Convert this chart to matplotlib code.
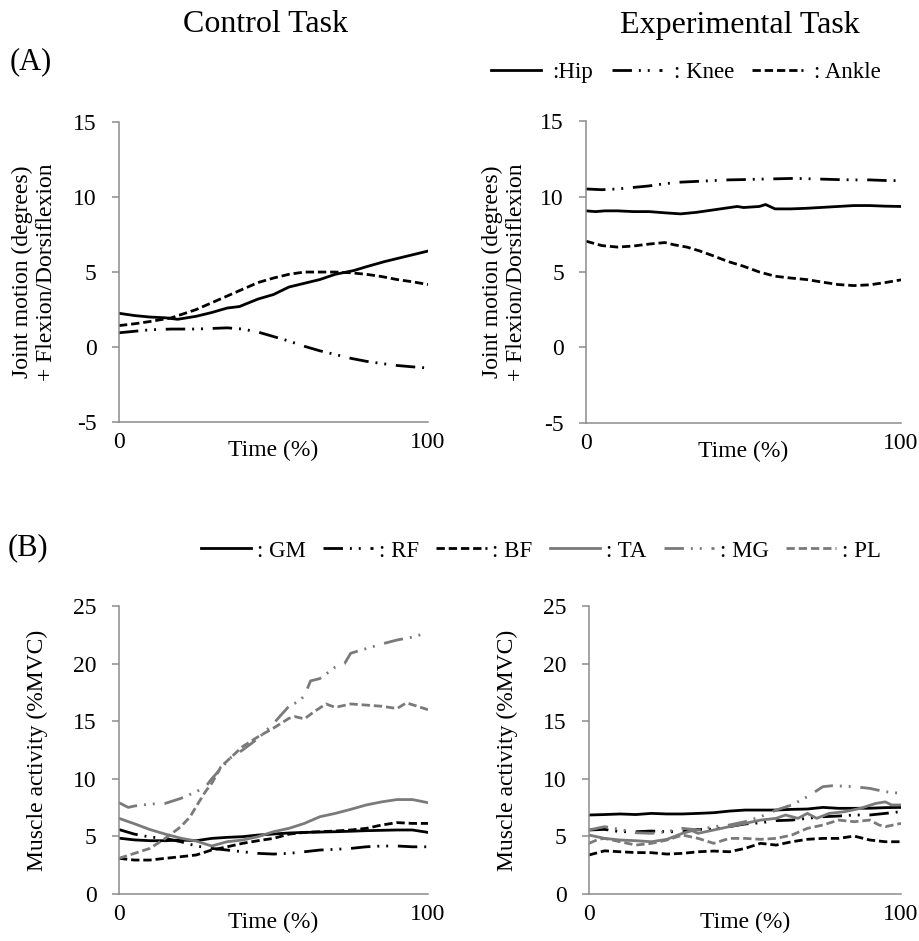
import matplotlib
matplotlib.use("Agg")
import matplotlib.pyplot as plt
from matplotlib.lines import Line2D

plt.rcParams['font.family'] = ['Liberation Serif', 'DejaVu Serif']
plt.rcParams['axes.unicode_minus'] = False

# ---- joint motion (degrees), control task ----
ctl_hip_t = [0, 5, 10, 15, 19, 25, 30, 35, 39, 45, 50, 55, 60, 65, 70, 76, 80, 86, 90, 95, 100]
ctl_hip = [2.25, 2.1, 2.0, 1.95, 1.85, 2.05, 2.3, 2.6, 2.7, 3.2, 3.5, 4.0, 4.25, 4.5, 4.85, 5.1, 5.35, 5.7, 5.9, 6.15, 6.4]
ctl_knee_t = [0, 5, 10, 17, 25, 35, 40, 45, 50, 55, 60, 65, 70, 75, 80, 85, 90, 95, 100]
ctl_knee = [0.95, 1.05, 1.15, 1.2, 1.2, 1.28, 1.2, 1.0, 0.7, 0.4, 0.05, -0.25, -0.5, -0.75, -0.95, -1.1, -1.23, -1.32, -1.4]
ctl_ankle_t = [0, 5, 10, 17, 25, 30, 35, 40, 45, 50, 55, 60, 65, 70, 75, 80, 85, 90, 95, 100]
ctl_ankle = [1.43, 1.55, 1.7, 1.95, 2.5, 2.95, 3.4, 3.85, 4.3, 4.6, 4.85, 5.0, 5.0, 5.0, 4.95, 4.85, 4.7, 4.5, 4.35, 4.17]

# ---- joint motion (degrees), experimental task ----
exp_hip_t = [0, 3, 6, 10, 15, 20, 25, 30, 35, 40, 45, 48, 50, 55, 57, 60, 65, 70, 75, 80, 85, 90, 95, 100]
exp_hip = [9.05, 9.0, 9.05, 9.05, 9.0, 9.0, 8.92, 8.85, 8.95, 9.1, 9.25, 9.34, 9.27, 9.34, 9.47, 9.18, 9.18, 9.22, 9.28, 9.34, 9.4, 9.4, 9.36, 9.34]
exp_knee_t = [0, 5, 10, 15, 20, 25, 30, 35, 40, 45, 50, 55, 60, 66, 70, 75, 80, 85, 90, 95, 100]
exp_knee = [10.5, 10.45, 10.5, 10.6, 10.7, 10.85, 10.95, 11.0, 11.05, 11.1, 11.12, 11.15, 11.17, 11.2, 11.18, 11.15, 11.12, 11.1, 11.1, 11.06, 11.05]
exp_ankle_t = [0, 5, 10, 15, 20, 25, 28, 32, 36, 40, 45, 50, 55, 60, 65, 70, 75, 80, 85, 90, 95, 100]
exp_ankle = [7.04, 6.75, 6.65, 6.72, 6.85, 6.95, 6.8, 6.65, 6.4, 6.1, 5.7, 5.38, 5.0, 4.72, 4.6, 4.5, 4.33, 4.17, 4.1, 4.15, 4.3, 4.48]

# ---- muscle activity (%MVC), control task ----
ctl_emg_t = [0, 5, 10, 15, 20, 25, 30, 35, 40, 45, 50, 55, 60, 65, 70, 75, 80, 85, 90, 95, 100]
ctl_gm = [4.85, 4.7, 4.63, 4.63, 4.69, 4.63, 4.83, 4.92, 4.98, 5.12, 5.21, 5.3, 5.35, 5.38, 5.41, 5.45, 5.5, 5.53, 5.56, 5.56, 5.35]
ctl_rf = [5.6, 5.2, 4.95, 4.83, 4.54, 4.17, 3.96, 3.82, 3.67, 3.53, 3.47, 3.53, 3.67, 3.82, 3.88, 3.96, 4.1, 4.17, 4.17, 4.1, 4.1]
ctl_bf = [3.1, 2.95, 2.95, 3.1, 3.24, 3.39, 3.82, 4.1, 4.4, 4.63, 4.83, 5.2, 5.35, 5.41, 5.47, 5.56, 5.7, 5.99, 6.2, 6.13, 6.13]
ctl_ta = [6.57, 6.1, 5.6, 5.2, 4.85, 4.6, 4.17, 4.54, 4.69, 4.98, 5.41, 5.7, 6.13, 6.71, 7.0, 7.35, 7.73, 8.0, 8.2, 8.2, 7.93]
ctl_mg_t = [0, 3, 5, 10, 15, 20, 25, 28, 30, 33, 36, 40, 45, 50, 53, 55, 58, 60, 62, 65, 68, 70, 73, 75, 80, 85, 90, 95, 100]
ctl_mg = [7.93, 7.52, 7.64, 7.81, 7.87, 8.3, 8.88, 9.3, 10.0, 10.9, 11.8, 12.5, 13.5, 14.8, 15.7, 16.3, 16.7, 17.2, 18.5, 18.7, 19.3, 19.7, 20.0, 20.9, 21.3, 21.7, 22.05, 22.3, 22.7]
ctl_pl_t = [0, 5, 10, 15, 20, 23, 25, 28, 30, 33, 36, 40, 45, 50, 55, 57, 60, 63, 67, 70, 75, 80, 85, 90, 93, 100]
ctl_pl = [3.1, 3.53, 3.96, 4.83, 5.84, 6.7, 7.6, 8.9, 9.6, 11.05, 11.8, 12.8, 13.65, 14.4, 15.25, 15.4, 15.2, 15.8, 16.5, 16.2, 16.5, 16.4, 16.3, 16.1, 16.6, 16.0]

# ---- muscle activity (%MVC), experimental task ----
exp_emg_t = [0, 5, 10, 15, 20, 25, 30, 35, 40, 45, 50, 55, 60, 65, 70, 75, 80, 85, 90, 95, 100]
exp_gm = [6.86, 6.9, 6.95, 6.9, 7.0, 6.95, 6.95, 7.0, 7.06, 7.2, 7.29, 7.29, 7.29, 7.35, 7.38, 7.52, 7.44, 7.44, 7.45, 7.5, 7.52]
exp_rf = [5.56, 5.61, 5.41, 5.41, 5.47, 5.41, 5.41, 5.61, 5.64, 5.85, 6.08, 6.19, 6.37, 6.42, 6.57, 6.71, 6.77, 6.86, 6.86, 7.0, 7.15]
exp_bf = [3.39, 3.75, 3.67, 3.6, 3.59, 3.47, 3.53, 3.67, 3.73, 3.67, 3.96, 4.4, 4.25, 4.54, 4.75, 4.83, 4.83, 5.03, 4.69, 4.54, 4.54]
exp_mg_t = [0, 5, 10, 15, 20, 25, 30, 35, 40, 45, 50, 55, 60, 65, 70, 75, 78, 85, 90, 95, 100]
exp_mg = [5.56, 5.85, 5.61, 5.32, 5.27, 5.41, 5.7, 5.56, 5.85, 5.99, 6.28, 6.71, 7.29, 7.73, 8.45, 9.32, 9.4, 9.32, 9.17, 8.88, 8.74]
exp_ta_t = [0, 5, 10, 15, 20, 25, 30, 33, 35, 40, 45, 50, 55, 60, 63, 67, 70, 73, 77, 82, 87, 92, 95, 97, 100]
exp_ta = [5.12, 4.83, 4.69, 4.63, 4.54, 4.75, 5.27, 5.5, 5.27, 5.56, 5.85, 6.13, 6.42, 6.57, 6.86, 6.57, 7.0, 6.57, 7.0, 7.15, 7.44, 7.87, 8.0, 7.73, 7.73]
exp_pl_t = [0, 3, 5, 10, 15, 20, 25, 30, 35, 40, 45, 50, 55, 60, 65, 70, 75, 80, 85, 90, 93, 95, 100]
exp_pl = [4.4, 4.75, 4.83, 4.54, 4.25, 4.4, 4.69, 5.12, 4.83, 4.4, 4.83, 4.83, 4.75, 4.83, 5.12, 5.7, 5.99, 6.42, 6.28, 6.42, 5.99, 5.85, 6.13]

GRAY = '#7a7a7a'
SPINE = '#8c8c8c'
LW = 2.0
FS = 17
solid = '-'
dashed = (0, (3.0, 1.4))
dadodo = (0, (7, 2.5, 0.7, 2.5, 0.7, 3.5))

fig = plt.figure(figsize=(9.2, 9.41), dpi=100)

ax_tl = fig.add_axes([0.1293, 0.5515, 0.3359, 0.3188])
ax_tr = fig.add_axes([0.6370, 0.5505, 0.3424, 0.3209])
ax_bl = fig.add_axes([0.1293, 0.0499, 0.3359, 0.3061])
ax_br = fig.add_axes([0.6402, 0.0499, 0.3391, 0.3061])


def style(ax, ylim, yticks, ylabel, xlab_y, ylab_x):
    ax.set_xlim(0, 100)
    ax.set_ylim(*ylim)
    ax.set_yticks(yticks)
    ax.set_xticks([0, 100])
    ax.set_xticklabels(['0', '100'])
    for s in ['top', 'right']:
        ax.spines[s].set_visible(False)
    for s in ['left', 'bottom']:
        ax.spines[s].set_color(SPINE)
        ax.spines[s].set_linewidth(1.1)
    ax.tick_params(axis='y', length=5, width=1.1, color=SPINE, labelsize=FS, pad=11)
    ax.tick_params(axis='x', length=0, labelsize=FS, pad=7)
    ax.set_ylabel(ylabel, fontsize=FS, linespacing=1.2)
    ax.yaxis.set_label_coords(ylab_x, 0.5)
    ax.set_xlabel('Time (%)', fontsize=FS)
    ax.xaxis.set_label_coords(0.5, xlab_y)


# top row: joint motion
ylab_a = 'Joint motion (degrees)\n+ Flexion/Dorsiflexion'
for ax, hip_t, hip, knee_t, knee, ank_t, ank, lx in [
        (ax_tl, ctl_hip_t, ctl_hip, ctl_knee_t, ctl_knee, ctl_ankle_t, ctl_ankle, -0.20),
        (ax_tr, exp_hip_t, exp_hip, exp_knee_t, exp_knee, exp_ankle_t, exp_ankle, -0.187)]:
    ax.plot(hip_t, hip, color='black', lw=LW, ls=solid)
    ax.plot(knee_t, knee, color='black', lw=LW, ls=dadodo)
    ax.plot(ank_t, ank, color='black', lw=LW, ls=dashed)
    style(ax, (-5, 15), [-5, 0, 5, 10, 15], ylab_a, -0.06, lx)

# bottom row: muscle activity
ax_bl.plot(ctl_emg_t, ctl_gm, color='black', lw=LW, ls=solid)
ax_bl.plot(ctl_emg_t, ctl_rf, color='black', lw=LW, ls=dadodo)
ax_bl.plot(ctl_emg_t, ctl_bf, color='black', lw=LW, ls=dashed)
ax_bl.plot(ctl_emg_t, ctl_ta, color=GRAY, lw=LW, ls=solid)
ax_bl.plot(ctl_mg_t, ctl_mg, color=GRAY, lw=LW, ls=dadodo)
ax_bl.plot(ctl_pl_t, ctl_pl, color=GRAY, lw=LW, ls=dashed)

ax_br.plot(exp_emg_t, exp_gm, color='black', lw=LW, ls=solid)
ax_br.plot(exp_emg_t, exp_rf, color='black', lw=LW, ls=dadodo)
ax_br.plot(exp_emg_t, exp_bf, color='black', lw=LW, ls=dashed)
ax_br.plot(exp_ta_t, exp_ta, color=GRAY, lw=LW, ls=solid)
ax_br.plot(exp_mg_t, exp_mg, color=GRAY, lw=LW, ls=dadodo)
ax_br.plot(exp_pl_t, exp_pl, color=GRAY, lw=LW, ls=dashed)

style(ax_bl, (0, 25), [0, 5, 10, 15, 20, 25], 'Muscle activity (%MVC)', -0.062, -0.23)
style(ax_br, (0, 25), [0, 5, 10, 15, 20, 25], 'Muscle activity (%MVC)', -0.062, -0.227)

# titles and panel letters
fig.text(266 / 920, 1 - 25 / 941, 'Control Task', fontsize=23, ha='center', va='center')
fig.text(740 / 920, 1 - 25 / 941, 'Experimental Task', fontsize=23, ha='center', va='center')
fig.text(10 / 920, 1 - 62 / 941, '(A)', fontsize=22, ha='left', va='center')
fig.text(8 / 920, 1 - 548 / 941, '(B)', fontsize=22, ha='left', va='center')

# legends
leg_a = [Line2D([], [], color='black', lw=LW, ls=solid),
         Line2D([], [], color='black', lw=LW, ls=dadodo),
         Line2D([], [], color='black', lw=LW, ls=dashed)]
fig.legend(leg_a, [':Hip', ': Knee', ': Ankle'], loc='center right',
           bbox_to_anchor=(890 / 920, 1 - 72 / 941), ncol=3, frameon=False,
           fontsize=16.5, handlelength=2.2, handletextpad=0.5, columnspacing=0.8,
           borderaxespad=0)

leg_b = [Line2D([], [], color='black', lw=LW, ls=solid),
         Line2D([], [], color='black', lw=LW, ls=dadodo),
         Line2D([], [], color='black', lw=LW, ls=dashed),
         Line2D([], [], color=GRAY, lw=LW, ls=solid),
         Line2D([], [], color=GRAY, lw=LW, ls=dadodo),
         Line2D([], [], color=GRAY, lw=LW, ls=dashed)]
fig.legend(leg_b, [': GM', ': RF', ': BF', ': TA', ': MG', ': PL'], loc='center right',
           bbox_to_anchor=(890 / 920, 1 - 551 / 941), ncol=6, frameon=False,
           fontsize=16.5, handlelength=2.2, handletextpad=0.25, columnspacing=0.75,
           borderaxespad=0)

fig.savefig('out.png', dpi=100)
